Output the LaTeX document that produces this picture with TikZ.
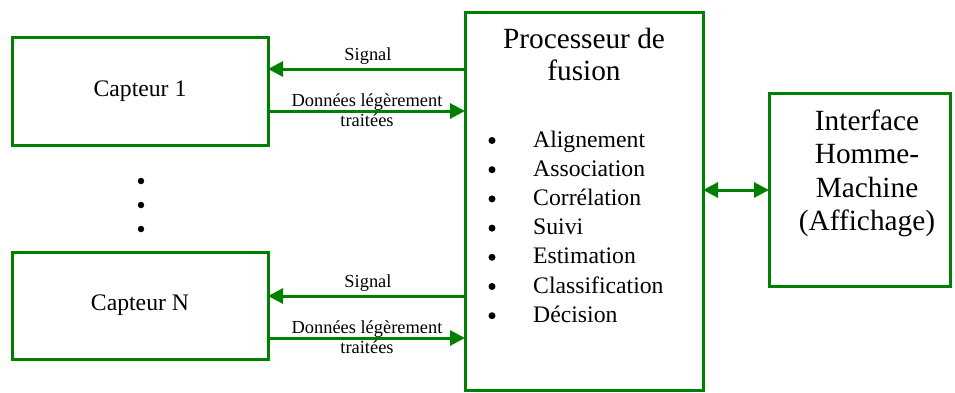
\documentclass[tikz,border=0pt]{standalone}
\usepackage{fontspec}
\setmainfont{Liberation Serif}
\usetikzlibrary{arrows.meta}
\definecolor{boxgreen}{RGB}{0,128,0}
\tikzset{
  box/.style={draw=boxgreen, line width=3pt, rectangle, inner sep=0pt, outer sep=0pt},
  arr/.style={draw=boxgreen, line width=3pt, -{Triangle[length=15pt,width=15pt]}},
  darr/.style={draw=boxgreen, line width=3pt, {Triangle[length=15pt,width=15pt]}-{Triangle[length=15pt,width=15pt]}},
  lbl/.style={font=\fontsize{18.4}{20}\selectfont, inner sep=0pt, anchor=base},
  sensor/.style={font=\fontsize{23.7}{28}\selectfont},
  big/.style={font=\fontsize{29.3}{33}\selectfont, inner sep=0pt, anchor=base},
  item/.style={font=\fontsize{23.7}{28}\selectfont, inner sep=0pt, anchor=base west},
  dot/.style={circle, fill=black, inner sep=0pt, minimum size=6.5pt},
  bul/.style={circle, fill=black, inner sep=0pt, minimum size=7pt}
}
\begin{document}
\begin{tikzpicture}[x=1pt, y=-1pt]
\useasboundingbox (0,0) rectangle (955,392);

% sensors
\node[box, sensor, minimum width=256pt, minimum height=108pt] (c1) at (140,91) {Capteur 1};
\node[box, sensor, minimum width=256pt, minimum height=107pt] (cn) at (140,305.5) {Capteur N};

% fusion processor
\node[box, minimum width=238pt, minimum height=378pt] (proc) at (584,201.5) {};
\node[big] (pt1) at (584,48) {Processeur de};
\node[big] (pt2) at (584,80.5) {fusion};

% processing steps
\foreach \t [count=\i from 0] in {Alignement,Association,Corrélation,Suivi,Estimation,Classification,Décision} {
  \node[bul] (b\i) at (492,{140.5+29.2*\i}) {};
  \node[item] (s\i) at (533,{147+29.2*\i}) {\t};
}

% man-machine interface
\node[box, minimum width=181pt, minimum height=193pt] (hmi) at (859.5,189.5) {};
\node[big] (h1) at (867,130) {Interface};
\node[big] (h2) at (867,163.5) {Homme-};
\node[big] (h3) at (867,197) {Machine};
\node[big] (h4) at (867,230.5) {(Affichage)};

% vertical ellipsis between sensors
\node[dot] (d1) at (141,181) {};
\node[dot] (d2) at (141,205) {};
\node[dot] (d3) at (141,229) {};

% links between sensor 1 and processor
\coordinate (sg1) at (465,69);
\coordinate (dt1) at (268,111);
\draw[arr] (sg1) -- (c1.east |- sg1);
\draw[arr] (dt1) -- (proc.west |- dt1);
\node[lbl] (ls1) at (368,60) {Signal};
\node[lbl] (ld1) at (367,106.5) {Données légèrement};
\node[lbl] (lt1) at (367,126.5) {traitées};

% links between sensor N and processor
\coordinate (sgn) at (465,296);
\coordinate (dtn) at (268,338);
\draw[arr] (sgn) -- (cn.east |- sgn);
\draw[arr] (dtn) -- (proc.west |- dtn);
\node[lbl] (lsn) at (368,287) {Signal};
\node[lbl] (ldn) at (367,333) {Données légèrement};
\node[lbl] (ltn) at (367,353) {traitées};

% processor <-> interface
\coordinate (pi) at (703,190);
\draw[darr] (pi) -- (hmi.west |- pi);
\end{tikzpicture}
\end{document}
